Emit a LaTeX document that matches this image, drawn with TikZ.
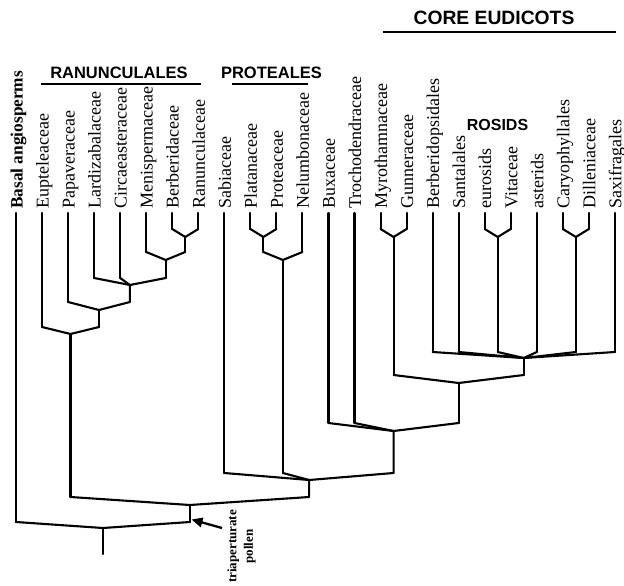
\documentclass[tikz,border=0pt]{standalone}
\usepackage{fontspec}
\setmainfont{Liberation Serif}
\newfontfamily\headfont{Liberation Sans}
\usetikzlibrary{arrows.meta}
\begin{document}
\begin{tikzpicture}[x=1pt,y=-1pt,
  br/.style={line width=2.1pt, line join=round, line cap=round},
  leaflab/.style={rotate=90, anchor=base west, inner sep=0pt, font=\fontsize{18}{20}\selectfont},
  head/.style={font=\headfont\bfseries\fontsize{16.5}{18}\selectfont, anchor=base, inner sep=0pt},
  uline/.style={line width=1.4pt}]
\useasboundingbox (0,0) rectangle (624,586);

% leaves
\foreach \i/\nm in {1/Eupteleaceae,2/Papaveraceae,3/Lardizabalaceae,4/Circaeasteraceae,
  5/Menispermaceae,6/Berberidaceae,7/Ranunculaceae,8/Sabiaceae,9/Platanaceae,10/Proteaceae,
  11/Nelumbonaceae,12/Buxaceae,13/Trochodendraceae,14/Myrothamnaceae,15/Gunneraceae,
  16/Berberidopsidales,17/Santalales,18/eurosids,19/Vitaceae,20/asterids,21/Caryophyllales,
  22/Dilleniaceae,23/Saxifragales}{
  \pgfmathsetmacro\xx{16+26.04*\i}
  \coordinate (t\i) at (\xx,213);
  \node[leaflab] (n\i) at (\xx+6.5,209) {\nm};
}
\coordinate (t0) at (16,213);
\node[leaflab, font=\bfseries\fontsize{17.3}{20}\selectfont] (n0) at (22.5,209) {Basal angiosperms};

% leaf bottoms
\foreach \i/\yy in {0/522,1/327,2/302,3/278,4/278,5/252,6/229,7/229,8/473,9/229,10/229,
  11/252,12/423,13/423,14/229,15/229,16/352,17/352,18/229,19/229,20/352,21/229,22/229,23/352}{
  \coordinate (b\i) at (t\i |- 0,\yy);
  \draw[br] (t\i) -- (b\i);
}

% internal nodes: apex and stem bottom
\coordinate (aBR) at (185.26,237);  \coordinate (sBR) at (185.26,252);
\coordinate (aMB) at (165.73,260);  \coordinate (sMB) at (165.73,278);
\coordinate (aLC) at (129.93,285);  \coordinate (sLC) at (129.93,302);
\coordinate (aPa) at (99.0,310);    \coordinate (sPa) at (99.0,327);
\coordinate (aRa) at (70.52,334);   \coordinate (sRa) at (70.52,497);
\coordinate (aPP) at (263.38,237);  \coordinate (sPP) at (263.38,252);
\coordinate (aPr) at (282.9,260);   \coordinate (sPr) at (282.9,473);
\coordinate (aGu) at (393.58,237);  \coordinate (sGu) at (393.58,375);
\coordinate (aEV) at (497.74,237);  \coordinate (sEV) at (497.74,352);
\coordinate (aCD) at (575.86,237);  \coordinate (sCD) at (575.86,352);
\coordinate (aCo) at (523.78,358);  \coordinate (sCo) at (523.78,375);
\coordinate (aCG) at (458.68,383);  \coordinate (sCG) at (458.68,423);
\coordinate (aBT) at (393.58,431);  \coordinate (sBT) at (393.58,473);
\coordinate (aSP) at (309.12,480);  \coordinate (sSP) at (309.12,497);
\coordinate (aEu) at (189.82,505);  \coordinate (sEu) at (189.82,522);
\coordinate (aRt) at (102.91,528);  \coordinate (sRt) at (102.91,554);

% Ranunculales
\draw[br] (b6) -- (aBR) -- (b7);  \draw[br] (aBR) -- (sBR);
\draw[br] (b5) -- (aMB) -- (sBR); \draw[br] (aMB) -- (sMB);
\draw[br] (b3) -- (aLC) -- (sMB); \draw[br] (b4) -- (aLC) -- (sLC);
\draw[br] (b2) -- (aPa) -- (sLC); \draw[br] (aPa) -- (sPa);
\draw[br] (b1) -- (aRa) -- (sPa); \draw[br] (aRa) -- (sRa);
% Proteales
\draw[br] (b9) -- (aPP) -- (b10);  \draw[br] (aPP) -- (sPP);
\draw[br] (sPP) -- (aPr) -- (b11); \draw[br] (aPr) -- (sPr);
% core eudicots
\draw[br] (b14) -- (aGu) -- (b15); \draw[br] (aGu) -- (sGu);
\draw[br] (b18) -- (aEV) -- (b19); \draw[br] (aEV) -- (sEV);
\draw[br] (b21) -- (aCD) -- (b22); \draw[br] (aCD) -- (sCD);
\draw[br] (b16) -- (aCo) -- (b23);
\draw[br] (b17) -- (aCo) -- (sEV);
\draw[br] (b20) -- (aCo) -- (sCD);
\draw[br] (aCo) -- (sCo);
\draw[br] (sGu) -- (aCG) -- (sCo); \draw[br] (aCG) -- (sCG);
\draw[br] (b12) -- (aBT) -- (sCG); \draw[br] (b13) -- (aBT) -- (sBT);
\draw[br] (b8) -- (aSP) -- (sBT);  \draw[br] (sPr) -- (aSP) -- (sSP);
\draw[br] (sRa) -- (aEu) -- (sSP); \draw[br] (aEu) -- (sEu);
\draw[br] (b0) -- (aRt) -- (sEu);  \draw[br] (aRt) -- (sRt);

% headers
\node[head] (ran) at (119,79) {RANUNCULALES};
\draw[uline] (41,84) coordinate (ranA) -- (201,84) coordinate (ranB);
\node[head] (pro) at (271.5,79) {PROTEALES};
\draw[uline] (232,84) coordinate (proA) -- (308,84) coordinate (proB);
\node[head, font=\headfont\bfseries\fontsize{19.3}{21}\selectfont] (core) at (494,25) {CORE EUDICOTS};
\draw[uline] (383,32) coordinate (coA) -- (616,32) coordinate (coB);
\node[head, font=\headfont\bfseries\fontsize{16}{18}\selectfont] (ros) at (497.5,130.5) {ROSIDS};

% triaperturate pollen
\node[rotate=90, align=center, inner sep=0pt, font=\bfseries\fontsize{13}{16.5}\selectfont] (pol) at (241.5,546.5) {triaperturate\\pollen};
\coordinate (arT) at (222,528);
\coordinate (arH) at (191.5,519.5);
\draw[line width=2.3pt, -{Triangle[length=11pt,width=9.5pt]}] (arT) -- (arH);
\end{tikzpicture}
\end{document}
